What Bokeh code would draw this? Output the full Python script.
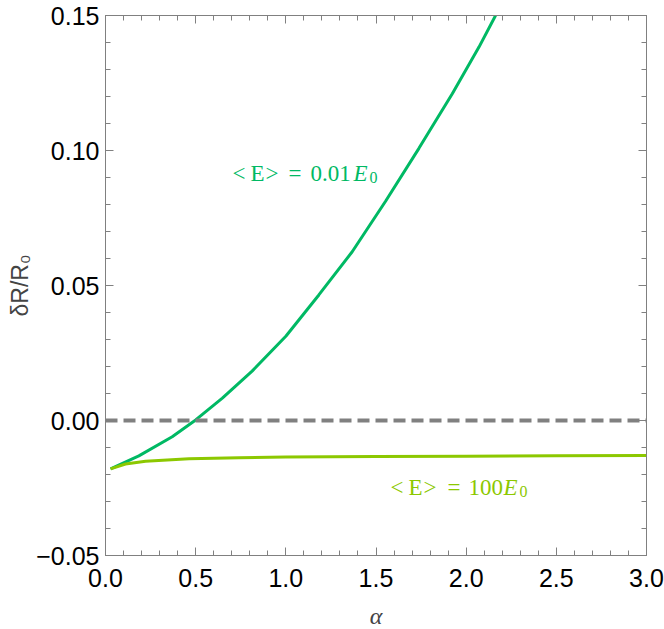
import numpy as np
from bokeh.plotting import figure
from bokeh.models import (Range1d, LinearAxis, FixedTicker,
                          Label, Span, CustomJSTickFormatter)
from bokeh.embed import file_html
from bokeh.resources import INLINE

# ---- data ----
alpha_low = [0.028, 0.185, 0.37, 0.5, 0.648, 0.813, 1.0, 1.183, 1.368, 1.553,
             1.738, 1.923, 2.071, 2.163]
dR_low = [-0.0179, -0.0131, -0.0060, 0.0002, 0.0083, 0.0183, 0.0312, 0.0465,
          0.0625, 0.0812, 0.1008, 0.1210, 0.1383, 0.150]

alpha_high = [0.028, 0.111, 0.222, 0.463, 0.74, 1.0, 1.5, 2.0, 2.5, 3.0]
dR_high = [-0.0179, -0.0161, -0.0151, -0.0142, -0.0138, -0.0135, -0.0133,
           -0.0132, -0.0131, -0.0130]

x_major_ticks = [0.0, 0.5, 1.0, 1.5, 2.0, 2.5, 3.0]
y_major_ticks = [-0.05, 0.0, 0.05, 0.10, 0.15]
x_minor_ticks = [round(0.1 * i, 2) for i in range(0, 31)]
y_minor_ticks = [round(-0.05 + 0.01 * i, 2) for i in range(0, 21)]

GREEN = "#00b964"
LIME = "#8cc800"
GRAY = "#808080"

X0, X1 = 0.0, 3.0
Y0, Y1 = -0.05, 0.15
FW, FH = 541, 540
FL, FT = 105, 15  # frame left/top in page pixels


def dx(px):
    return X0 + (px - FL) * (X1 - X0) / FW


def dy(py):
    return Y1 - (py - FT) * (Y1 - Y0) / FH


p = figure(frame_width=FW, frame_height=FH,
           x_range=Range1d(X0, X1), y_range=Range1d(Y0, Y1),
           output_backend="svg", toolbar_location=None,
           min_border_left=FL, min_border_right=18, min_border_top=FT,
           min_border_bottom=74, background_fill_color="white",
           border_fill_color="white")
p.xgrid.visible = False
p.ygrid.visible = False
p.outline_line_color = GRAY

tick_font = "Liberation Sans"


def style_axis(ax, show_labels=True):
    ax.axis_line_color = GRAY
    ax.major_tick_line_color = GRAY
    ax.minor_tick_line_color = GRAY
    ax.major_tick_in = 8
    ax.major_tick_out = 0
    ax.minor_tick_in = 5
    ax.minor_tick_out = 0
    ax.major_tick_line_width = 1
    ax.minor_tick_line_width = 1
    if show_labels:
        ax.major_label_text_font = tick_font
        ax.major_label_text_font_size = "25px"
        ax.major_label_text_color = "black"
    else:
        ax.major_label_text_font_size = "0px"
        ax.major_label_standoff = 0
        ax.major_label_text_color = None


xfmt = CustomJSTickFormatter(code="""
var v = Math.abs(tick) < 1e-9 ? 0 : tick;
return (v < 0 ? '\u2212' : '') + Math.abs(v).toFixed(1);
""")
yfmt = CustomJSTickFormatter(code="""
var v = Math.abs(tick) < 1e-9 ? 0 : tick;
return (v < 0 ? '\u2212' : '') + Math.abs(v).toFixed(2);
""")


def xticker():
    return FixedTicker(ticks=x_major_ticks, minor_ticks=x_minor_ticks)


def yticker():
    return FixedTicker(ticks=y_major_ticks, minor_ticks=y_minor_ticks)


xax = p.xaxis[0]
xax.ticker = xticker()
xax.formatter = xfmt
style_axis(xax)
xax.major_label_standoff = 13
xax.axis_label = "\u03b1"
xax.axis_label_text_font = "Liberation Serif"
xax.axis_label_text_font_style = "italic"
xax.axis_label_text_font_size = "24px"
xax.axis_label_standoff = 13

yax = p.yaxis[0]
yax.ticker = yticker()
yax.formatter = yfmt
style_axis(yax)
yax.major_label_standoff = 6
yax.axis_label = "\u03b4R/R\u2080"
yax.axis_label_text_font = "Liberation Sans"
yax.axis_label_text_font_style = "normal"
yax.axis_label_text_font_size = "23px"
yax.axis_label_standoff = 0

top = LinearAxis(ticker=xticker())
style_axis(top, False)
p.add_layout(top, "above")
right = LinearAxis(ticker=yticker())
style_axis(right, False)
p.add_layout(right, "right")

# zero line
p.add_layout(Span(location=0, dimension="width", line_color=GRAY,
                  line_width=4, line_dash="12 6"))

p.line(alpha_low, dR_low, line_color=GREEN, line_width=3)
p.line(alpha_high, dR_high, line_color=LIME, line_width=3)


def lab(x, y, text, color, font="Liberation Serif", size="23px", style="normal"):
    p.add_layout(Label(x=x, y=y, text=text, text_color=color, text_font=font,
                       text_font_size=size, text_font_style=style,
                       text_align="left", text_baseline="alphabetic"))


def annotation(x0, base, number, color, eq_dx, num_dx, e_dx, sub_dx):
    lab(dx(x0), dy(base), "<", color)
    lab(dx(x0 + 18), dy(base), "E", color)
    lab(dx(x0 + 33), dy(base), ">", color)
    lab(dx(x0 + eq_dx), dy(base), "=", color)
    lab(dx(x0 + num_dx), dy(base), number, color)
    lab(dx(x0 + e_dx), dy(base), "E", color, style="italic")
    lab(dx(x0 + sub_dx), dy(base + 4), "0", color, size="16px")


# <E> = 0.01 E0
annotation(232, 172.5, "0.01", GREEN, 56, 78, 121, 137)
# <E> = 100 E0
annotation(390, 487, "100", LIME, 57, 78, 113, 129)

open("out.html", "w").write(file_html(p, INLINE))
